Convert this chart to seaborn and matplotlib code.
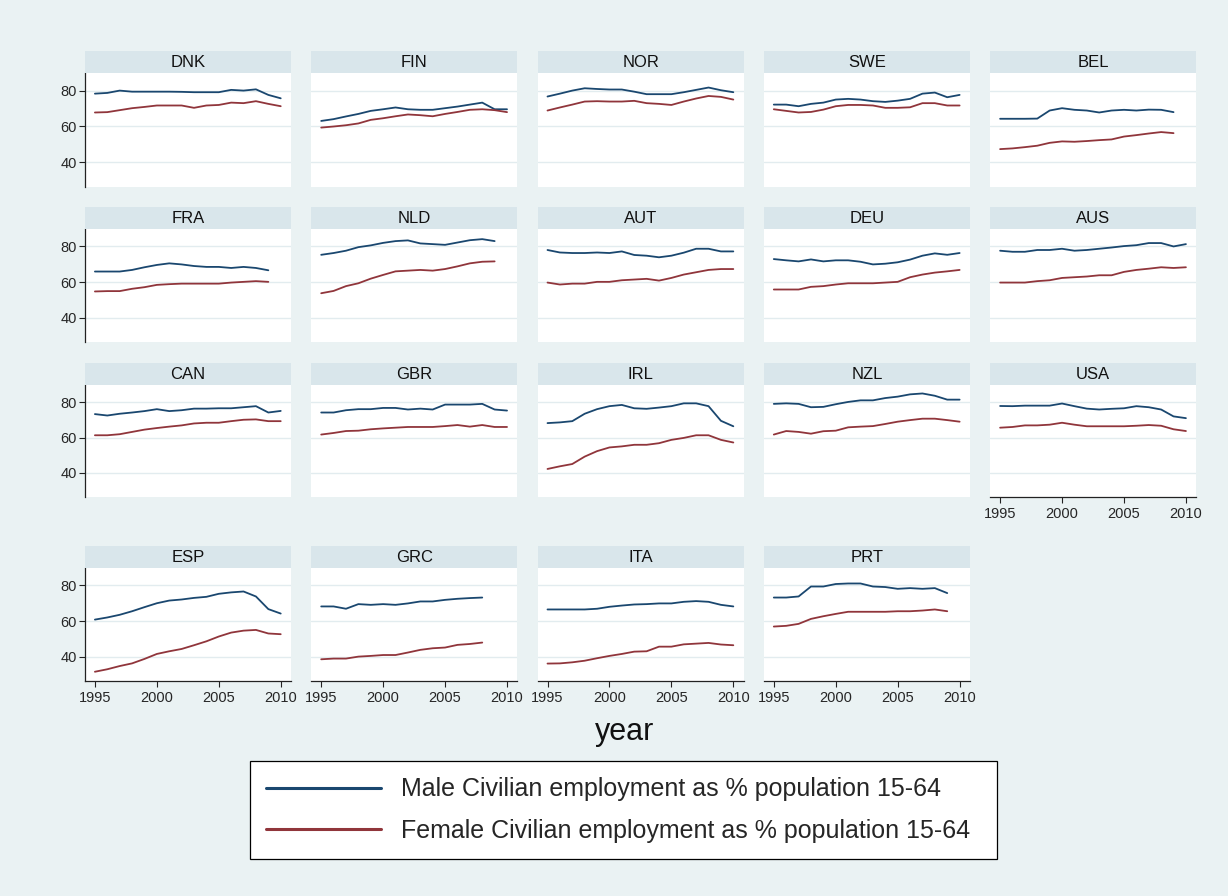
import numpy as np
import pandas as pd
import matplotlib
matplotlib.use("Agg")
import matplotlib.pyplot as plt
import seaborn as sns

nan = np.nan

years = list(range(1995, 2011))
countries = ["DNK", "FIN", "NOR", "SWE", "BEL",
             "FRA", "NLD", "AUT", "DEU", "AUS",
             "CAN", "GBR", "IRL", "NZL", "USA",
             "ESP", "GRC", "ITA", "PRT"]

MALE_LABEL = "Male Civilian employment as % population 15-64"
FEMALE_LABEL = "Female Civilian employment as % population 15-64"

# Employment rates, 1995-2010
DNK_male = [78.3, 78.7, 80.0, 79.4, 79.4, 79.4, 79.4, 79.3, 79.1, 79.1, 79.1, 80.4, 80.0, 80.7, 77.6, 75.7]
DNK_female = [67.8, 68.0, 69.1, 70.2, 70.9, 71.7, 71.7, 71.7, 70.4, 71.7, 72.0, 73.3, 73.0, 74.1, 72.6, 71.3]
FIN_male = [63.1, 64.1, 65.6, 67.0, 68.7, 69.6, 70.6, 69.6, 69.3, 69.3, 70.2, 71.1, 72.2, 73.3, 69.6, 69.6]
FIN_female = [59.4, 60.0, 60.7, 61.7, 63.7, 64.6, 65.7, 66.7, 66.3, 65.7, 67.0, 68.1, 69.3, 69.6, 69.1, 68.0]
NOR_male = [76.7, 78.3, 80.0, 81.3, 80.9, 80.6, 80.6, 79.4, 78.0, 78.0, 78.0, 79.1, 80.4, 81.7, 80.2, 79.1]
NOR_female = [68.9, 70.6, 72.2, 73.9, 74.1, 73.9, 73.9, 74.3, 73.0, 72.6, 72.0, 73.9, 75.6, 77.0, 76.5, 75.0]
SWE_male = [72.2, 72.2, 71.3, 72.6, 73.3, 75.0, 75.4, 75.0, 74.1, 73.7, 74.4, 75.4, 78.3, 78.9, 76.3, 77.6]
SWE_female = [69.6, 68.7, 67.8, 68.1, 69.4, 71.3, 72.0, 72.0, 71.7, 70.4, 70.4, 70.7, 73.0, 73.0, 71.7, 71.7]
BEL_male = [64.3, 64.3, 64.3, 64.4, 68.9, 70.2, 69.3, 68.9, 67.8, 68.9, 69.3, 68.9, 69.4, 69.3, 68.0, nan]
BEL_female = [47.4, 47.8, 48.5, 49.3, 50.9, 51.7, 51.5, 51.9, 52.4, 52.8, 54.4, 55.2, 56.1, 56.9, 56.3, nan]
FRA_male = [65.9, 65.9, 65.9, 66.8, 68.3, 69.6, 70.5, 69.9, 69.0, 68.5, 68.5, 67.9, 68.5, 67.9, 66.6, nan]
FRA_female = [54.7, 54.9, 54.9, 56.2, 57.1, 58.4, 58.8, 59.1, 59.1, 59.1, 59.1, 59.7, 60.1, 60.5, 60.1, nan]
NLD_male = [75.3, 76.3, 77.6, 79.6, 80.6, 82.0, 83.0, 83.4, 81.7, 81.3, 80.9, 82.2, 83.5, 84.1, 83.0, nan]
NLD_female = [53.7, 55.0, 57.7, 59.3, 61.9, 64.0, 66.0, 66.4, 66.8, 66.4, 67.3, 68.8, 70.5, 71.4, 71.6, nan]
AUT_male = [78.0, 76.6, 76.3, 76.3, 76.6, 76.3, 77.2, 75.2, 74.8, 73.9, 74.8, 76.5, 78.7, 78.7, 77.2, 77.2]
AUT_female = [59.7, 58.6, 59.1, 59.1, 60.1, 60.1, 61.0, 61.4, 61.8, 60.8, 62.3, 64.2, 65.5, 66.8, 67.3, 67.3]
DEU_male = [72.9, 72.2, 71.6, 72.7, 71.6, 72.2, 72.2, 71.4, 69.9, 70.3, 71.1, 72.6, 74.8, 76.1, 75.3, 76.3]
DEU_female = [55.8, 55.8, 55.8, 57.3, 57.7, 58.6, 59.3, 59.3, 59.3, 59.7, 60.1, 62.7, 64.2, 65.3, 66.0, 66.8]
AUS_male = [77.6, 77.0, 77.0, 78.0, 78.0, 78.7, 77.6, 78.0, 78.7, 79.4, 80.2, 80.7, 81.9, 81.9, 80.0, 81.3]
AUS_female = [59.7, 59.7, 59.7, 60.5, 61.0, 62.3, 62.7, 63.1, 63.8, 63.8, 65.7, 66.8, 67.5, 68.3, 67.9, 68.3]
CAN_male = [73.3, 72.5, 73.5, 74.2, 75.0, 76.1, 75.0, 75.5, 76.4, 76.4, 76.6, 76.6, 77.2, 77.8, 74.2, 75.1]
CAN_female = [61.3, 61.3, 61.9, 63.2, 64.5, 65.4, 66.2, 66.9, 68.0, 68.4, 68.4, 69.3, 70.1, 70.3, 69.3, 69.3]
GBR_male = [74.2, 74.2, 75.5, 76.1, 76.1, 76.8, 76.8, 75.9, 76.4, 75.9, 78.7, 78.7, 78.7, 79.1, 75.9, 75.3]
GBR_female = [61.7, 62.6, 63.7, 63.9, 64.7, 65.2, 65.6, 66.0, 66.0, 66.0, 66.5, 67.1, 66.2, 67.1, 66.0, 66.0]
IRL_male = [68.2, 68.6, 69.3, 73.5, 76.1, 77.8, 78.5, 76.6, 76.3, 77.0, 77.8, 79.4, 79.4, 77.8, 69.5, 66.4]
IRL_female = [42.2, 43.7, 45.0, 49.2, 52.3, 54.4, 55.0, 55.9, 55.9, 56.8, 58.7, 59.8, 61.3, 61.3, 58.7, 57.2]
NZL_male = [79.1, 79.4, 79.1, 77.2, 77.4, 78.9, 80.2, 81.1, 81.1, 82.4, 83.2, 84.5, 85.0, 83.7, 81.5, 81.5]
NZL_female = [61.7, 63.7, 63.2, 62.2, 63.6, 63.9, 65.8, 66.2, 66.5, 67.7, 69.0, 69.9, 70.7, 70.7, 69.9, 69.0]
USA_male = [77.9, 77.8, 78.1, 78.1, 78.1, 79.3, 77.8, 76.4, 75.9, 76.3, 76.6, 77.8, 77.2, 75.9, 72.0, 71.0]
USA_female = [65.6, 66.0, 66.9, 66.9, 67.3, 68.4, 67.3, 66.4, 66.4, 66.4, 66.4, 66.7, 67.1, 66.7, 64.7, 63.7]
ESP_male = [60.8, 62.0, 63.5, 65.5, 67.8, 70.0, 71.5, 72.1, 73.0, 73.6, 75.3, 76.1, 76.6, 73.8, 66.7, 64.2]
ESP_female = [31.5, 32.9, 34.7, 36.2, 38.7, 41.5, 43.0, 44.3, 46.4, 48.6, 51.3, 53.5, 54.6, 55.0, 53.0, 52.6]
GRC_male = [68.2, 68.2, 66.9, 69.5, 69.1, 69.5, 69.1, 69.9, 71.0, 71.0, 71.9, 72.5, 72.9, 73.2, nan, nan]
GRC_female = [38.5, 38.9, 38.9, 40.0, 40.4, 40.9, 40.9, 42.3, 43.8, 44.7, 45.1, 46.6, 47.1, 47.9, nan, nan]
ITA_male = [66.5, 66.5, 66.5, 66.5, 66.9, 68.0, 68.7, 69.3, 69.5, 69.9, 69.9, 70.8, 71.2, 70.8, 69.1, 68.2]
ITA_female = [36.1, 36.2, 36.8, 37.7, 39.1, 40.4, 41.5, 42.8, 43.0, 45.6, 45.6, 46.9, 47.3, 47.7, 46.8, 46.4]
PRT_male = [73.2, 73.2, 73.8, 79.4, 79.4, 80.8, 81.1, 81.1, 79.4, 79.1, 78.1, 78.5, 78.1, 78.5, 75.7, nan]
PRT_female = [56.9, 57.3, 58.4, 61.2, 62.7, 64.0, 65.2, 65.2, 65.2, 65.2, 65.5, 65.5, 65.9, 66.5, 65.5, nan]

y_ticks = [40, 60, 80]
x_ticks = [1995, 2000, 2005, 2010]

# Long-format table built from the per-country series
frames = []
for code in countries:
    for label, vals in ((MALE_LABEL, globals()[f"{code}_male"]),
                        (FEMALE_LABEL, globals()[f"{code}_female"])):
        frames.append(pd.DataFrame({"country": code, "year": years,
                                    "series": label, "value": vals}))
df = pd.concat(frames, ignore_index=True).dropna()

BG = "#EAF2F3"
STRIP = "#D9E6EB"
GRID = "#E2ECEF"
palette = {MALE_LABEL: "#1A476F", FEMALE_LABEL: "#90353B"}

sns.set_style("white")
plt.rcParams["font.family"] = ["Liberation Sans", "DejaVu Sans"]

W, H = 1228, 896
fig = plt.figure(figsize=(W / 100, H / 100), dpi=100, facecolor=BG)


def box(x, y, w, h):
    """Pixel box (from top-left) to figure fraction rect."""
    return [x / W, 1 - (y + h) / H, w / W, h / H]


col_left = [85 + c * 226.3 for c in range(5)]
head_top = [51, 207, 363, 546]
plot_top = [73, 229, 385, 568]
plot_bot = [187, 342, 497, 681]
panel_w = 206

handles = labels = None
for i, code in enumerate(countries):
    r, c = divmod(i, 5)
    x = col_left[c]
    ax = fig.add_axes(box(x, plot_top[r], panel_w, plot_bot[r] - plot_top[r]))
    ax.set_facecolor("white")
    sub = df[df["country"] == code]
    sns.lineplot(data=sub, x="year", y="value", hue="series",
                 hue_order=[MALE_LABEL, FEMALE_LABEL], palette=palette,
                 estimator=None, linewidth=1.3, ax=ax,
                 legend=(i == 0))
    if i == 0:
        handles, labels = ax.get_legend_handles_labels()
        ax.get_legend().remove()

    ax.set_xlim(1994.2, 2010.83)
    ax.set_ylim(26.3, 89.8)
    ax.set_yticks(y_ticks)
    ax.set_xticks(x_ticks)
    ax.set_xlabel("")
    ax.set_ylabel("")
    ax.grid(axis="y", color=GRID, linewidth=1.0)
    ax.grid(axis="x", visible=False)
    ax.set_axisbelow(True)

    show_left = c == 0
    show_bottom = (r == 3) or code == "USA"
    for side in ("top", "right"):
        ax.spines[side].set_visible(False)
    ax.spines["left"].set_visible(show_left)
    ax.spines["bottom"].set_visible(show_bottom)
    for side in ("left", "bottom"):
        ax.spines[side].set_color("#222222")
        ax.spines[side].set_linewidth(0.9)
    ax.tick_params(axis="y", left=show_left, labelleft=show_left,
                   length=4, width=0.8, color="#222222", labelsize=10.5,
                   pad=2, direction="out")
    ax.tick_params(axis="x", bottom=show_bottom, labelbottom=show_bottom,
                   length=4, width=0.8, color="#222222", labelsize=10.5,
                   pad=3, direction="out")

    hx = fig.add_axes(box(x, head_top[r], panel_w, 22))
    hx.set_facecolor(STRIP)
    hx.set_xticks([])
    hx.set_yticks([])
    for s in hx.spines.values():
        s.set_visible(False)
    hx.text(0.5, 0.47, code, ha="center", va="center", fontsize=12,
            color="#111111", transform=hx.transAxes)

fig.text(625 / W, 1 - 732 / H, "year", ha="center", va="center",
         fontsize=22, color="#111111")

leg = fig.legend(handles, labels, loc="upper left",
                 bbox_to_anchor=(250 / W, 1 - 858 / H, 747 / W, 97 / H),
                 mode="expand", borderaxespad=0, frameon=True, fancybox=False,
                 edgecolor="black", facecolor="white", framealpha=1,
                 fontsize=18, handlelength=4.6, handletextpad=0.8,
                 labelspacing=0.7, borderpad=0.65)
leg.get_frame().set_linewidth(0.9)
for line in leg.get_lines():
    line.set_linewidth(2.2)

fig.savefig("out.png", dpi=100, facecolor=BG)
